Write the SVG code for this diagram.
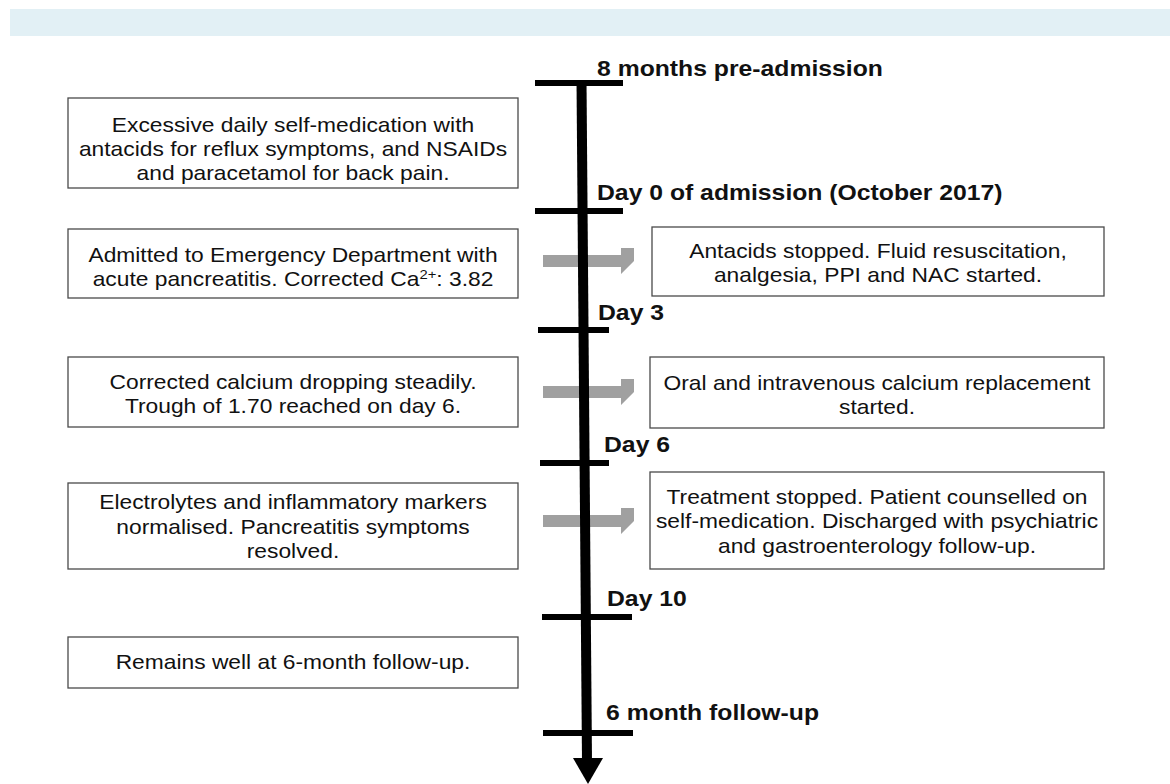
<svg xmlns="http://www.w3.org/2000/svg" width="1170" height="784" viewBox="0 0 1170 784">
<style>
.box{fill:#fff;stroke:#4a4a4a;stroke-width:1.3}
.t{font-family:"Liberation Sans",Arial,sans-serif;font-size:20px;fill:#111;text-anchor:middle}
.lbl{font-family:"Liberation Sans",Arial,sans-serif;font-size:22px;font-weight:bold;fill:#111}
.tick{stroke:#000;stroke-width:6}
.garrow{fill:#a0a0a0}
</style>
<defs>
<path id="ga" d="M0,-6 H78 V-13 H91 L91,0 L91,0 L78,13 V6 H0 Z"/>
</defs>
<rect x="10" y="9" width="1160" height="27" fill="#e2f0f5"/>

<g id="connectors">
<use href="#ga" class="garrow" transform="translate(543,261)"/>
<use href="#ga" class="garrow" transform="translate(543,392)"/>
<use href="#ga" class="garrow" transform="translate(543,521)"/>
</g>

<g id="timeline">
<line x1="581.5" y1="80" x2="587" y2="762" stroke="#000" stroke-width="10"/>
<polygon points="573,758 603,758 588,784" fill="#000"/>
<line class="tick" x1="535" y1="83" x2="623" y2="83"/>
<line class="tick" x1="535" y1="211" x2="623" y2="211"/>
<line class="tick" x1="538" y1="330" x2="609" y2="330"/>
<line class="tick" x1="540" y1="463" x2="609" y2="463"/>
<line class="tick" x1="542" y1="617" x2="632" y2="617"/>
<line class="tick" x1="543" y1="733" x2="633" y2="733"/>
</g>

<g id="label-pre">
<text class="lbl" transform="translate(597,76) scale(1.125,1)">8 months pre-admission</text>
</g>
<g id="label-day0">
<text class="lbl" transform="translate(597,200) scale(1.125,1)">Day 0 of admission (October 2017)</text>
</g>
<g id="label-day3">
<text class="lbl" transform="translate(598,320) scale(1.125,1)">Day 3</text>
</g>
<g id="label-day6">
<text class="lbl" transform="translate(604,452) scale(1.125,1)">Day 6</text>
</g>
<g id="label-day10">
<text class="lbl" transform="translate(607,606) scale(1.125,1)">Day 10</text>
</g>
<g id="label-6m">
<text class="lbl" transform="translate(606,720) scale(1.125,1)">6 month follow-up</text>
</g>

<g id="box-selfmed">
<rect class="box" x="68" y="98" width="450" height="90"/>
<g transform="translate(293,0) scale(1.14,1)">
<text class="t" x="0" y="132">Excessive daily self-medication with</text>
<text class="t" x="0" y="156">antacids for reflux symptoms, and NSAIDs</text>
<text class="t" x="0" y="180">and paracetamol for back pain.</text>
</g>
</g>

<g id="box-admitted">
<rect class="box" x="68" y="229" width="450" height="69"/>
<g transform="translate(293,0) scale(1.14,1)">
<text class="t" x="0" y="262">Admitted to Emergency Department with</text>
<text class="t" x="0" y="286">acute pancreatitis. Corrected Ca<tspan font-size="13" dy="-7">2+</tspan><tspan dy="7">: 3.82</tspan></text>
</g>
</g>

<g id="box-calcium">
<rect class="box" x="68" y="357" width="450" height="70"/>
<g transform="translate(293,0) scale(1.14,1)">
<text class="t" x="0" y="389">Corrected calcium dropping steadily.</text>
<text class="t" x="0" y="413">Trough of 1.70 reached on day 6.</text>
</g>
</g>

<g id="box-normalised">
<rect class="box" x="68" y="483" width="450" height="86"/>
<g transform="translate(293,0) scale(1.14,1)">
<text class="t" x="0" y="509">Electrolytes and inflammatory markers</text>
<text class="t" x="0" y="534">normalised. Pancreatitis symptoms</text>
<text class="t" x="0" y="558">resolved.</text>
</g>
</g>

<g id="box-remains">
<rect class="box" x="68" y="637" width="450" height="51"/>
<g transform="translate(293,0) scale(1.14,1)">
<text class="t" x="0" y="669">Remains well at 6-month follow-up.</text>
</g>
</g>

<g id="box-antacids-stopped">
<rect class="box" x="652" y="227" width="452" height="69"/>
<g transform="translate(878,0) scale(1.14,1)">
<text class="t" x="0" y="258">Antacids stopped. Fluid resuscitation,</text>
<text class="t" x="0" y="282">analgesia, PPI and NAC started.</text>
</g>
</g>

<g id="box-calcium-replacement">
<rect class="box" x="650" y="357" width="454" height="71"/>
<g transform="translate(877,0) scale(1.14,1)">
<text class="t" x="0" y="390">Oral and intravenous calcium replacement</text>
<text class="t" x="0" y="414">started.</text>
</g>
</g>

<g id="box-treatment-stopped">
<rect class="box" x="650" y="472" width="454" height="97"/>
<g transform="translate(877,0) scale(1.14,1)">
<text class="t" x="0" y="504">Treatment stopped. Patient counselled on</text>
<text class="t" x="0" y="528">self-medication. Discharged with psychiatric</text>
<text class="t" x="0" y="553">and gastroenterology follow-up.</text>
</g>
</g>
</svg>
